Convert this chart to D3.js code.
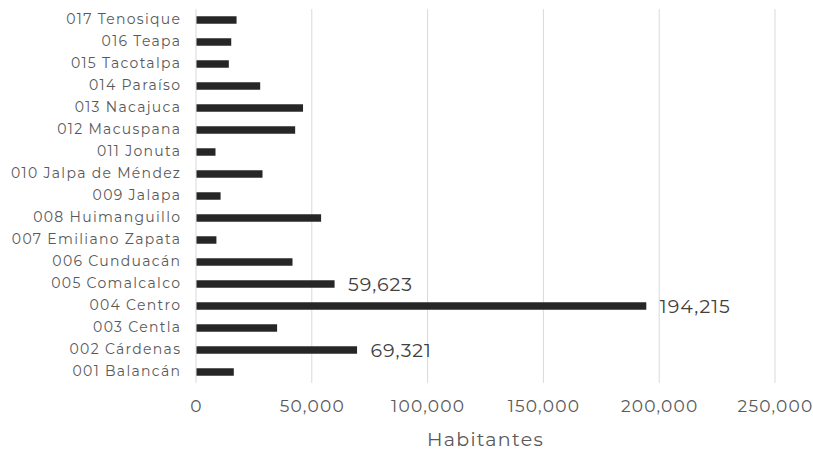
<!DOCTYPE html>
<html><head><meta charset="utf-8">
<script src="https://cdn.jsdelivr.net/npm/d3@7"></script>
<style>
html,body{margin:0;padding:0;background:#fff;}
svg text{font-family:"Montserrat","Open Sans","Noto Sans",sans-serif;}
</style></head>
<body><svg id="c" width="813" height="453"></svg>
<script>
const categories = ["001 Balancán","002 Cárdenas","003 Centla","004 Centro","005 Comalcalco","006 Cunduacán","007 Emiliano Zapata","008 Huimanguillo","009 Jalapa","010 Jalpa de Méndez","011 Jonuta","012 Macuspana","013 Nacajuca","014 Paraíso","015 Tacotalpa","016 Teapa","017 Tenosique"];
const values = [16100,69321,34800,194215,59623,41450,8600,53800,10400,28500,8200,42600,46000,27500,13950,15000,17300];
const labeled = ["002 Cárdenas","004 Centro","005 Comalcalco"];
const xTicks = [0,50000,100000,150000,200000,250000];
const xTitle = "Habitantes";

const svg = d3.select("#c");
const m = {left:196, right:38, top:9, bottom:70};
const W = 813, H = 453;
const x = d3.scaleLinear().domain([0,250000]).range([m.left, W-m.right]);
const y = d3.scaleBand().domain(categories.slice().reverse()).range([m.top, H-m.bottom]).paddingInner(0.66).paddingOuter(0.33);

// gridlines
svg.append("g").selectAll("line").data(xTicks.slice(1)).join("line")
  .attr("x1",d=>x(d)).attr("x2",d=>x(d)).attr("y1",m.top).attr("y2",H-m.bottom)
  .attr("stroke","#d9d9d9").attr("stroke-width",1);
// vertical axis line
svg.append("line").attr("x1",x(0)).attr("x2",x(0)).attr("y1",m.top).attr("y2",H-m.bottom)
  .attr("stroke","#d9d9d9").attr("stroke-width",1);

// bars
svg.append("g").selectAll("rect").data(categories).join("rect")
  .attr("x",x(0)+0.5).attr("y",d=>y(d)).attr("height",y.bandwidth())
  .attr("width",(d,i)=>x(values[i])-x(0)).attr("fill","#262626");

// category labels
const yAxis = d3.axisLeft(y).tickSize(0).tickPadding(14.7);
const ga = svg.append("g").attr("transform",`translate(${x(0)},0)`).call(yAxis);
ga.select(".domain").remove();
ga.selectAll("text").attr("fill","#595959").style("font-size","14px").style("letter-spacing","1.3px");

// x tick labels
const xAxis = d3.axisBottom(x).tickValues(xTicks).tickSize(0).tickPadding(17).tickFormat(d3.format(","));
const gx = svg.append("g").attr("transform",`translate(0,${H-m.bottom})`).call(xAxis);
gx.select(".domain").remove();
gx.selectAll("text").attr("fill","#595959").style("font-size","17px").style("letter-spacing","1.2px");

// value labels
svg.append("g").selectAll("text").data(categories.filter(c=>labeled.includes(c))).join("text")
  .attr("x",d=>x(values[categories.indexOf(d)])+14)
  .attr("y",d=>y(d)+y.bandwidth()/2)
  .attr("dy","0.36em")
  .attr("fill","#404040").style("font-size","19px").style("letter-spacing","1px")
  .text(d=>d3.format(",")(values[categories.indexOf(d)]));

// axis title
svg.append("text").attr("x",(x(0)+x(250000))/2).attr("y",446)
  .attr("text-anchor","middle").attr("fill","#595959").style("font-size","19px").style("letter-spacing","1.3px").text(xTitle);
</script></body></html>
